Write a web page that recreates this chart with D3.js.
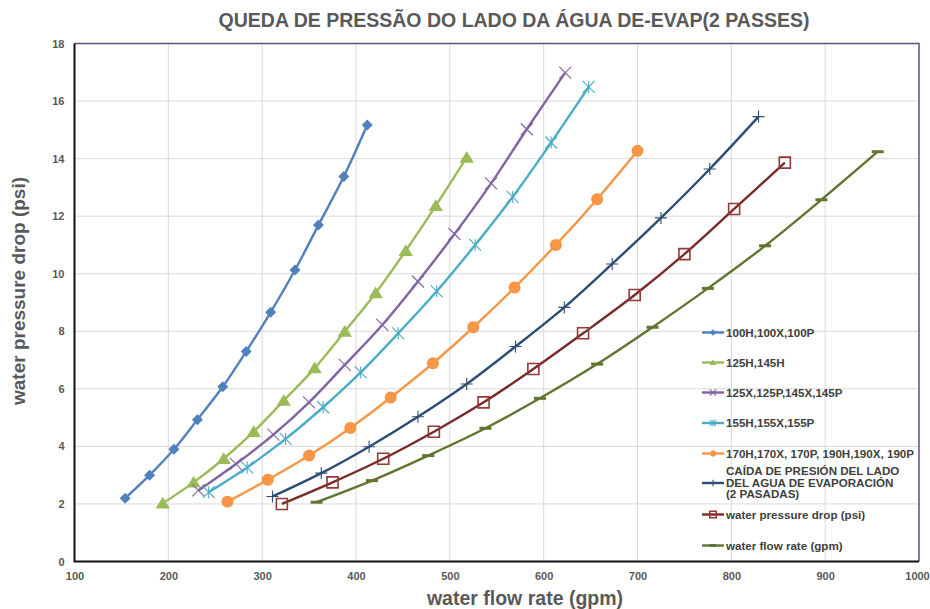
<!DOCTYPE html>
<html>
<head>
<meta charset="utf-8">
<script src="https://cdn.jsdelivr.net/npm/d3@7"></script>
<style>
	body { margin: 0; background: #fff; }
	svg { display: block; font-family: "Liberation Sans", Arial, sans-serif; }
	.grid line { stroke: #d9d9d9; stroke-width: 1; }
	.tick-label { font-size: 11px; font-weight: bold; fill: #595959; }
	.legend text { font-size: 11.6px; font-weight: bold; fill: #404040; }
</style>
</head>
<body>
<svg id="chart" width="930" height="609"></svg>
<script>
"use strict";

// Series names, in legend order
var seriesNames = [
	"100H,100X,100P",
	"125H,145H",
	"125X,125P,145X,145P",
	"155H,155X,155P",
	"170H,170X, 170P, 190H,190X, 190P",
	"CAÍDA DE PRESIÓN DEL LADO DEL AGUA DE EVAPORACIÓN (2 PASADAS)",
	"water pressure drop (psi)",
	"water flow rate (gpm)"
];

// Water flow (gpm) and pressure drop (psi) for each series
var flow100 = [154, 180, 206, 231, 258, 283, 309, 335, 360, 387, 412];
var psi100 = [2.2, 3.0, 3.9, 4.93, 6.07, 7.3, 8.66, 10.13, 11.69, 13.38, 15.17];

var flow125H = [194, 227, 259, 291, 323, 356, 388, 421, 453, 485, 518];
var psi125H = [2.02, 2.75, 3.57, 4.51, 5.59, 6.72, 7.99, 9.33, 10.8, 12.36, 14.04];

var flow125X = [232, 272, 312, 350, 388, 428, 466, 505, 544, 582, 623];
var psi125X = [2.47, 3.39, 4.41, 5.53, 6.83, 8.22, 9.73, 11.38, 13.14, 15.02, 16.99];

var flow155 = [243, 284, 325, 365, 405, 445, 486, 527, 567, 608, 648];
var psi155 = [2.41, 3.27, 4.26, 5.36, 6.57, 7.93, 9.39, 11.0, 12.67, 14.56, 16.49];

var flow170 = [263, 306, 350, 394, 437, 482, 525, 569, 613, 657, 700];
var psi170 = [2.08, 2.84, 3.68, 4.64, 5.7, 6.89, 8.14, 9.52, 11.0, 12.59, 14.27];

var flowCaida = [311, 363, 414, 466, 518, 570, 622, 673, 725, 777, 829];
var psiCaida = [2.26, 3.07, 3.99, 5.03, 6.17, 7.47, 8.83, 10.34, 11.94, 13.64, 15.46];

var flowWpd = [321, 375, 429, 483, 536, 589, 642, 697, 750, 803, 857];
var psiWpd = [2.0, 2.75, 3.57, 4.51, 5.53, 6.69, 7.93, 9.26, 10.68, 12.25, 13.86];

var flowWfr = [358, 417, 477, 538, 596, 657, 716, 775, 836, 896, 956];
var psiWfr = [2.06, 2.81, 3.68, 4.63, 5.67, 6.86, 8.14, 9.49, 10.97, 12.57, 14.24];

var xTicks = [100, 200, 300, 400, 500, 600, 700, 800, 900, 1000];
var yTicks = [0, 2, 4, 6, 8, 10, 12, 14, 16, 18];

var chartTitle = "QUEDA DE PRESSÃO DO LADO DA ÁGUA DE-EVAP(2 PASSES)";
var xTitle = "water flow rate (gpm)";
var yTitle = "water pressure drop (psi)";

// Build the series table from the arrays above
function pairUp(xs, ys) {
	return xs.map(function (x, i) { return {flow: x, psi: ys[i]}; });
}
var seriesData = [
	pairUp(flow100, psi100),
	pairUp(flow125H, psi125H),
	pairUp(flow125X, psi125X),
	pairUp(flow155, psi155),
	pairUp(flow170, psi170),
	pairUp(flowCaida, psiCaida),
	pairUp(flowWpd, psiWpd),
	pairUp(flowWfr, psiWfr)
];

// Look of each series: line colour, marker type, marker colour
var styles = [
	{line: "#4f81bd", marker: "diamond", mark: "#4f81bd"},
	{line: "#9bbb59", marker: "triangle", mark: "#9bbb59"},
	{line: "#8064a2", marker: "x", mark: "#8064a2"},
	{line: "#4bacc6", marker: "star", mark: "#4bacc6"},
	{line: "#f79646", marker: "circle", mark: "#f79646"},
	{line: "#2c4d75", marker: "plus", mark: "#2c4d75"},
	{line: "#772c2a", marker: "square", mark: "#953735"},
	{line: "#5f7530", marker: "dash", mark: "#5f7530"}
];

// Marker paths, centred on 0,0, scaled by s (half size)
function markerPath(type, s) {
	switch (type) {
		case "diamond": return "M0," + (-s) + "L" + s + ",0L0," + s + "L" + (-s) + ",0Z";
		case "triangle": return "M0," + (-s) + "L" + (s * 1.1) + "," + (s * 0.8) + "L" + (-s * 1.1) + "," + (s * 0.8) + "Z";
		case "x": return "M" + (-s) + "," + (-s) + "L" + s + "," + s + "M" + s + "," + (-s) + "L" + (-s) + "," + s;
		case "star": return "M" + (-s) + "," + (-s) + "L" + s + "," + s + "M" + s + "," + (-s) + "L" + (-s) + "," + s + "M0," + (-s) + "L0," + s;
		case "circle": return "M" + (-s) + ",0A" + s + "," + s + " 0 1 1 " + (-s) + ",0.001Z";
		case "plus": return "M" + (-s) + ",0L" + s + ",0M0," + (-s) + "L0," + s;
		case "square": return "M" + (-s) + "," + (-s) + "L" + s + "," + (-s) + "L" + s + "," + s + "L" + (-s) + "," + s + "Z";
		case "dash": return "M" + (-s) + ",-1.5L" + s + ",-1.5L" + s + ",1.5L" + (-s) + ",1.5Z";
	}
}

function drawMarker(sel, st, s) {
	var filled = ["diamond", "triangle", "circle", "dash"].indexOf(st.marker) >= 0;
	sel.attr("d", markerPath(st.marker, s))
		.attr("fill", filled ? st.mark : "none")
		.attr("stroke", st.mark)
		.attr("stroke-width", filled ? 0 : (st.marker === "square" ? 1.6 : 1.1));
}

var svg = d3.select("#chart");
var margin = {top: 43.5, right: 11, bottom: 47.5, left: 74.5};
var width = +svg.attr("width") - margin.left - margin.right;
var height = +svg.attr("height") - margin.top - margin.bottom;

var x = d3.scaleLinear().domain([100, 1000]).range([0, width]);
var y = d3.scaleLinear().domain([0, 18]).range([height, 0]);

var chart = svg.append("g")
	.attr("transform", "translate(" + margin.left + "," + margin.top + ")");

// Grid lines
var grid = chart.append("g").attr("class", "grid");
grid.selectAll("line.v").data(xTicks.slice(1, -1)).enter().append("line")
	.attr("class", "v")
	.attr("x1", function (d) { return x(d); }).attr("x2", function (d) { return x(d); })
	.attr("y1", 0).attr("y2", height);
grid.selectAll("line.h").data(yTicks.slice(1, -1)).enter().append("line")
	.attr("class", "h")
	.attr("y1", function (d) { return y(d); }).attr("y2", function (d) { return y(d); })
	.attr("x1", 0).attr("x2", width);

// Border: top and right purple, left and bottom black
chart.append("path")
	.attr("d", "M0,0H" + width + "V" + height)
	.attr("fill", "none").attr("stroke", "#5f4f7f").attr("stroke-width", 1.5);
chart.append("path")
	.attr("d", "M0,0V" + height + "H" + width)
	.attr("fill", "none").attr("stroke", "#111").attr("stroke-width", 2);

// Axes (labels only, grid drawn above)
var xAxis = chart.append("g")
	.attr("transform", "translate(0," + height + ")")
	.call(d3.axisBottom(x).tickValues(xTicks).tickFormat(d3.format("d")).tickSize(0).tickPadding(11));
var yAxis = chart.append("g")
	.call(d3.axisLeft(y).tickValues(yTicks).tickFormat(d3.format("d")).tickSize(0).tickPadding(10));
[xAxis, yAxis].forEach(function (a) {
	a.select(".domain").remove();
	a.selectAll("text").attr("class", "tick-label").attr("fill", null)
		.style("font-family", "Liberation Sans, Arial, sans-serif");
});
// the last x label sits against the window edge
xAxis.selectAll("text").filter(function (d) { return d === 1000; }).attr("dx", "-2");

// Lines, smoothed like the spreadsheet
var line = d3.line()
	.x(function (d) { return x(d.flow); })
	.y(function (d) { return y(d.psi); })
	.curve(d3.curveCatmullRom.alpha(0.5));

var series = chart.selectAll("g.series")
	.data(seriesData)
	.enter()
	.append("g")
	.attr("class", "series");

series.append("path")
	.attr("fill", "none")
	.attr("stroke", function (d, i) { return styles[i].line; })
	.attr("stroke-width", 2.4)
	.attr("stroke-linejoin", "round")
	.attr("d", line);

var markerSize = [5.5, 6.5, 6, 6, 6, 6, 5.5, 6];
series.each(function (d, i) {
	d3.select(this).selectAll("path.mark")
		.data(d)
		.enter()
		.append("path")
		.attr("class", "mark")
		.attr("transform", function (p) { return "translate(" + x(p.flow) + "," + y(p.psi) + ")"; })
		.call(drawMarker, styles[i], markerSize[i]);
});

// Legend, inside the plot at the lower right
var legendRows = [332.5, 362.5, 392.5, 423, 453.5, 483, 514.5, 545.5];
var legend = svg.append("g").attr("class", "legend")
	.selectAll("g")
	.data(seriesNames)
	.enter()
	.append("g")
	.attr("transform", function (d, i) { return "translate(702," + legendRows[i] + ")"; });

legend.append("line")
	.attr("x1", 0).attr("x2", 22)
	.attr("stroke", function (d, i) { return styles[i].line; })
	.attr("stroke-width", 2.4);
legend.append("path")
	.attr("transform", "translate(11,0)")
	.each(function (d, i) { d3.select(this).call(drawMarker, styles[i], 3.2); });
legend.append("text")
	.attr("x", 24)
	.attr("dy", "0.36em")
	.each(function (d, i) {
		var t = d3.select(this);
		if (i === 5) {
			var lines = ["CAÍDA DE PRESIÓN DEL LADO", "DEL AGUA DE EVAPORACIÓN", "(2 PASADAS)"];
			t.attr("dy", null);
			lines.forEach(function (l, k) {
				t.append("tspan").attr("x", 24).attr("y", -7.8 + k * 11.6).text(l);
			});
		} else {
			t.text(d);
		}
	});

// Titles
svg.append("text")
	.attr("x", 514).attr("y", 27)
	.attr("text-anchor", "middle")
	.style("font-size", "19.5px").style("font-weight", "bold").style("fill", "#595959")
	.text(chartTitle);
svg.append("text")
	.attr("x", 525).attr("y", 605)
	.attr("text-anchor", "middle")
	.style("font-size", "19.5px").style("font-weight", "bold").style("fill", "#595959")
	.text(xTitle);
svg.append("text")
	.attr("transform", "translate(25,291) rotate(-90)")
	.attr("text-anchor", "middle")
	.style("font-size", "19px").style("font-weight", "bold").style("fill", "#595959")
	.text(yTitle);
</script>
</body>
</html>
